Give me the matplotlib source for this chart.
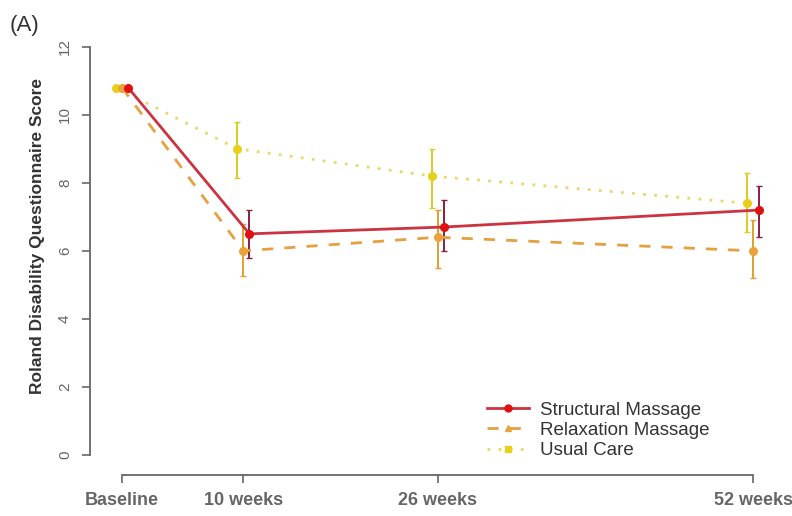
import numpy as np
import matplotlib.pyplot as plt

plt.rcParams['font.family'] = ['Liberation Sans', 'DejaVu Sans']

# weeks since baseline
weeks = [0, 10, 26, 52]
tick_labels = ['Baseline', '10 weeks', '26 weeks', '52 weeks']

structural = [10.8, 6.5, 6.7, 7.2]
structural_lo = [10.8, 5.8, 6.0, 6.4]
structural_hi = [10.8, 7.2, 7.5, 7.9]

relaxation = [10.8, 6.0, 6.4, 6.0]
relaxation_lo = [10.8, 5.25, 5.5, 5.2]
relaxation_hi = [10.8, 6.8, 7.2, 6.9]

usual = [10.8, 9.0, 8.2, 7.4]
usual_lo = [10.8, 8.15, 7.25, 6.55]
usual_hi = [10.8, 9.8, 9.0, 8.3]

names = ['Structural Massage', 'Relaxation Massage', 'Usual Care']

fig = plt.figure(figsize=(7.92, 5.16), dpi=100)
ax = fig.add_axes([0.1136, 0.0795, 0.865, 0.843])

series = [
     (structural, structural_lo, structural_hi, 0.5, '#cc3340', '#e01010', '#8a1f45', '-', 'o', names[0]),
     (relaxation, relaxation_lo, relaxation_hi, 0.0, '#e5a040', '#eba23a', '#e0a030', (0, (4, 4)), '^', names[1]),
     (usual, usual_lo, usual_hi, -0.5, '#e6d86a', '#e8cf1a', '#d8cc20', (0, (1, 3)), 's', names[2]),
]

# draw usual care first so structural ends on top
for vals, lo, hi, off, lc, mc, ec, ls, mk, name in series[::-1]:
     x = np.array(weeks) + off
     v = np.array(vals)
     yerr = [v - np.array(lo), np.array(hi) - v]
     ax.errorbar(x[1:], v[1:], yerr=[yerr[0][1:], yerr[1][1:]], fmt='none',
                 ecolor=ec, elinewidth=1.4, capsize=2, capthick=1.0, zorder=2)
     ax.plot(x, v, color=lc, linestyle=ls, linewidth=2, zorder=3)
     ax.plot(x, v, linestyle='none', marker='o', color=mc, markersize=5.5, zorder=4)

handles = []
for vals, lo, hi, off, lc, mc, ec, ls, mk, name in series:
     h, = ax.plot([], [], color=lc, linestyle=ls, linewidth=2, marker=mk,
                  markerfacecolor=mc, markeredgecolor=mc, markersize=5, label=name)
     handles.append(h)
ax.legend(handles=handles, loc='upper left', bbox_to_anchor=(0.594, 0.254),
          bbox_transform=fig.transFigure, frameon=False, fontsize=13.5,
          handlelength=2.2, handletextpad=0.6, labelspacing=0.16,
          labelcolor='#333333')

ax.set_xlim(-2.64, 53.8)
ax.set_ylim(-0.59, 12.2)
ax.set_xticks(weeks)
ax.set_xticklabels(tick_labels, fontsize=13, fontweight='bold', color='#333333')
ax.set_yticks(range(0, 13, 2))
ax.set_yticklabels([str(t) for t in range(0, 13, 2)], rotation=90, va='center',
                   fontsize=11, color='#666666')
ax.set_ylabel('Roland Disability Questionnaire Score', fontsize=12.5, fontweight='bold',
              color='#333333')
ax.yaxis.set_label_coords(-0.066, 0.55)

for s in ['top', 'right']:
     ax.spines[s].set_visible(False)
ax.spines['left'].set_bounds(0, 12)
ax.spines['bottom'].set_bounds(0, 52)
for s in ['left', 'bottom']:
     ax.spines[s].set_color('#666666')
     ax.spines[s].set_linewidth(1.3)
ax.tick_params(colors='#666666', length=6, width=1.2)
ax.tick_params(axis='x', pad=6)
ax.tick_params(axis='y', pad=7)

fig.text(0.012, 0.94, '(A)', fontsize=16, color='#333333')

fig.savefig('out.png', dpi=100)
